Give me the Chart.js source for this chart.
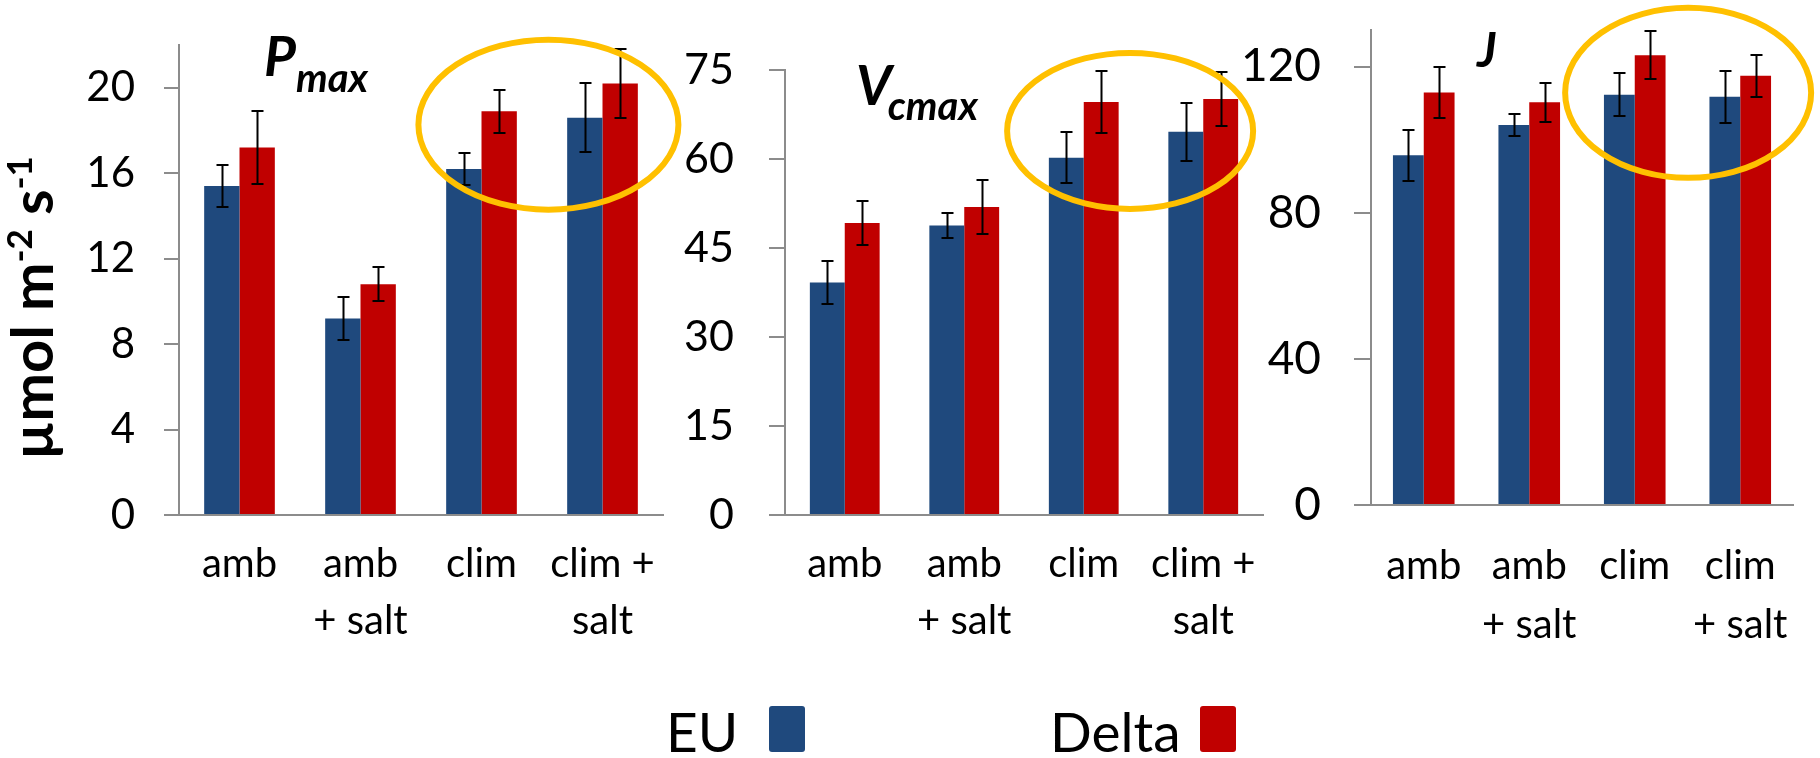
<!DOCTYPE html>
<html>
<head>
<meta charset="utf-8">
<title>Pmax, Vcmax and J by treatment</title>
<script src="https://cdn.jsdelivr.net/npm/chart.js@4.4.1/dist/chart.umd.min.js"></script>
<style>
  html, body { margin: 0; padding: 0; background: #ffffff; }
  body { width: 1820px; height: 758px; position: relative; overflow: hidden; font-family: Lato, "Noto Sans", sans-serif; }
  canvas { position: absolute; top: 0; }
  .legend-item { position: absolute; white-space: nowrap; font-family: Lato, sans-serif; font-size: 55px; line-height: 55px; color: #000; }
  .legend-swatch { display: inline-block; vertical-align: baseline; width: 36px; height: 46px; border-radius: 3px; }
</style>
</head>
<body>
<canvas id="chartPmax" width="700" height="700" style="left:0px"></canvas>
<canvas id="chartVcmax" width="700" height="700" style="left:600px"></canvas>
<canvas id="chartJ" width="600" height="700" style="left:1220px"></canvas>
<div id="legend"></div>
<script>
// ---- data ----
const seriesNames = ['EU', 'Delta'];
const seriesColors = ['#1F497D', '#C00000'];

const treatmentLabels = [['amb'], ['amb', '+ salt'], ['clim'], ['clim +', 'salt']];
const treatmentLabelsJ = [['amb'], ['amb', '+ salt'], ['clim'], ['clim', '+ salt']];

const pmaxEU = [15.4, 9.2, 16.2, 18.6];
const pmaxEUErr = [1.0, 1.0, 0.75, 1.6];
const pmaxDelta = [17.2, 10.8, 18.9, 20.2];
const pmaxDeltaErr = [1.7, 0.8, 1.0, 1.6];
const pmaxTicks = [0, 4, 8, 12, 16, 20];

const vcmaxEU = [39.2, 48.8, 60.2, 64.6];
const vcmaxEUErr = [3.6, 2.1, 4.3, 4.9];
const vcmaxDelta = [49.2, 51.9, 69.6, 70.1];
const vcmaxDeltaErr = [3.75, 4.6, 5.3, 4.6];
const vcmaxTicks = [0, 15, 30, 45, 60, 75];

const jEU = [95.7, 104.0, 112.3, 111.7];
const jEUErr = [7.0, 3.1, 5.8, 7.1];
const jDelta = [112.9, 110.2, 123.1, 117.5];
const jDeltaErr = [6.9, 5.4, 6.6, 5.75];
const jTicks = [0, 40, 80, 120];

// ---- styling ----
const AXIS_GREY = '#8c8c8c';
const FONT = 'Lato';

// Error bars: vertical whiskers with caps, centred on each bar
const errorBarsPlugin = {
  id: 'errorBars',
  afterDatasetsDraw(chart) {
    const ctx = chart.ctx;
    const y = chart.scales.y;
    ctx.save();
    ctx.strokeStyle = '#000';
    ctx.lineWidth = 2;
    chart.data.datasets.forEach((ds, di) => {
      const meta = chart.getDatasetMeta(di);
      meta.data.forEach((bar, i) => {
        const v = ds.data[i], e = ds.errors[i];
        const top = Math.round(y.getPixelForValue(v + e));
        const bot = Math.round(y.getPixelForValue(v - e));
        const x = Math.round(bar.x) + 0.5;
        const cap = 6;
        ctx.beginPath();
        ctx.moveTo(x, top); ctx.lineTo(x, bot);
        ctx.moveTo(x - cap, top); ctx.lineTo(x + cap, top);
        ctx.moveTo(x - cap, bot); ctx.lineTo(x + cap, bot);
        ctx.stroke();
      });
    });
    ctx.restore();
  }
};

// Yellow ring around the "clim" treatments
const highlightPlugin = {
  id: 'highlight',
  afterDraw(chart, args, opts) {
    if (!opts || opts.index === undefined) return;
    const ctx = chart.ctx;
    const cx = chart.scales.x.getPixelForValue(opts.index);
    const cy = chart.scales.y.getPixelForValue(opts.value);
    ctx.save();
    ctx.strokeStyle = '#FFC000';
    ctx.lineWidth = 6;
    ctx.beginPath();
    ctx.ellipse(cx, cy, opts.rx, opts.ry, 0, 0, Math.PI * 2);
    ctx.stroke();
    ctx.restore();
  }
};

// Panel heading with a subscript, e.g. P_max
const panelTitlePlugin = {
  id: 'panelTitle',
  afterDraw(chart, args, opts) {
    if (!opts || !opts.main) return;
    const ctx = chart.ctx;
    ctx.save();
    ctx.fillStyle = '#000';
    ctx.textBaseline = 'alphabetic';
    ctx.textAlign = 'left';
    ctx.font = `italic bold ${opts.mainSize}px ${FONT}`;
    ctx.fillText(opts.main, opts.x, opts.y);
    const w = ctx.measureText(opts.main).width;
    if (opts.sub) {
      ctx.font = `italic bold ${opts.subSize}px ${FONT}`;
      ctx.fillText(opts.sub, opts.x + w + (opts.subShift || 0), opts.y + opts.subDrop);
    }
    ctx.restore();
  }
};

// Rotated unit label with superscripts
const unitTitlePlugin = {
  id: 'unitTitle',
  afterDraw(chart, args, opts) {
    if (!opts || !opts.parts) return;
    const ctx = chart.ctx;
    ctx.save();
    ctx.translate(opts.x, opts.y);
    ctx.rotate(-Math.PI / 2);
    ctx.fillStyle = '#000';
    ctx.textBaseline = 'alphabetic';
    ctx.textAlign = 'left';
    let total = 0;
    opts.parts.forEach(p => {
      ctx.font = `bold ${p.sup ? opts.supSize : opts.size}px ${FONT}`;
      p.w = ctx.measureText(p.text).width;
      total += p.w;
    });
    let pos = -total / 2;
    opts.parts.forEach(p => {
      ctx.font = `bold ${p.sup ? opts.supSize : opts.size}px ${FONT}`;
      ctx.fillText(p.text, pos, p.sup ? -opts.rise : 0);
      pos += p.w;
    });
    ctx.restore();
  }
};

function makePanel(canvasId, cfg) {
  return new Chart(document.getElementById(canvasId), {
    type: 'bar',
    data: {
      labels: cfg.labels,
      datasets: [
        { label: seriesNames[0], data: cfg.eu, errors: cfg.euErr, backgroundColor: seriesColors[0] },
        { label: seriesNames[1], data: cfg.delta, errors: cfg.deltaErr, backgroundColor: seriesColors[1] }
      ]
    },
    plugins: [errorBarsPlugin, highlightPlugin, panelTitlePlugin, unitTitlePlugin],
    options: {
      responsive: false,
      maintainAspectRatio: false,
      animation: false,
      devicePixelRatio: 1,
      events: [],
      layout: {
        autoPadding: false,
        padding: { left: 0, right: cfg.padRight, top: cfg.plotTop, bottom: 0 }
      },
      datasets: { bar: { categoryPercentage: 0.584, barPercentage: 1.0, borderWidth: 0 } },
      plugins: {
        legend: { display: false },
        tooltip: { enabled: false },
        title: { display: false },
        highlight: cfg.ring,
        panelTitle: cfg.title,
        unitTitle: cfg.unit || {}
      },
      scales: {
        x: {
          grid: { display: false, drawTicks: false },
          border: { display: true, color: AXIS_GREY, width: 2 },
          ticks: {
            color: '#000',
            font: { family: FONT, size: 40, lineHeight: cfg.xLine },
            padding: cfg.xPad,
            maxRotation: 0, minRotation: 0, autoSkip: false
          },
          afterFit: s => {
            s.height = cfg.xHeight;
            s.paddingLeft = 0; s.paddingRight = 0;
          }
        },
        y: {
          min: 0,
          max: cfg.max,
          afterBuildTicks: s => { s.ticks = cfg.ticks.map(v => ({ value: v })); },
          grid: {
            display: true, drawOnChartArea: false, drawTicks: true,
            tickLength: cfg.tickLen, color: AXIS_GREY, lineWidth: 2
          },
          border: { display: true, color: AXIS_GREY, width: 2 },
          ticks: {
            color: '#000',
            font: { family: FONT, size: cfg.yFont },
            padding: cfg.yPad
          },
          afterFit: s => {
            s.width = cfg.yWidth;
            s.paddingTop = 0; s.paddingBottom = 0;
          }
        }
      }
    }
  });
}

makePanel('chartPmax', {
  labels: treatmentLabels,
  eu: pmaxEU, euErr: pmaxEUErr, delta: pmaxDelta, deltaErr: pmaxDeltaErr,
  max: 22, ticks: pmaxTicks,
  plotTop: 45, padRight: 37, yWidth: 179, xHeight: 700 - 515,
  tickLen: 15, yFont: 42, yPad: 29, xPad: 20, xLine: 1.435,
  ring: { index: 2.553, value: 18.27, rx: 130, ry: 85 },
  title: { main: 'P', sub: 'max', x: 264, y: 76, mainSize: 55, subSize: 40, subDrop: 16, subShift: 0 },
  unit: {
    x: 53, y: 308, size: 58, supSize: 35, rise: 21,
    parts: [{ text: 'µmol m' }, { text: '-2', sup: true }, { text: ' s' }, { text: '-1', sup: true }]
  }
});

makePanel('chartVcmax', {
  labels: treatmentLabels,
  eu: vcmaxEU, euErr: vcmaxEUErr, delta: vcmaxDelta, deltaErr: vcmaxDeltaErr,
  max: 75, ticks: vcmaxTicks,
  plotTop: 70, padRight: 37, yWidth: 185, xHeight: 700 - 515,
  tickLen: 16, yFont: 43, yPad: 35, xPad: 20, xLine: 1.435,
  ring: { index: 2.388, value: 64.74, rx: 123, ry: 78 },
  title: { main: 'V', sub: 'cmax', x: 256, y: 105, mainSize: 55, subSize: 40, subDrop: 15, subShift: -4 }
});

makePanel('chartJ', {
  labels: treatmentLabelsJ,
  eu: jEU, euErr: jEUErr, delta: jDelta, deltaErr: jDeltaErr,
  max: 130, ticks: jTicks,
  plotTop: 30, padRight: 27, yWidth: 151, xHeight: 700 - 505,
  tickLen: 17, yFont: 46, yPad: 33, xPad: 31, xLine: 1.48,
  ring: { index: 2.506, value: 112.8, rx: 123, ry: 85 },
  title: { main: 'J', x: 257, y: 67, mainSize: 48 }
});

// Legend: label text followed by its colour swatch
const legendSlots = [{ left: 666, gap: 31 }, { left: 1050, gap: 19 }];
const legendEl = document.getElementById('legend');
seriesNames.forEach((name, i) => {
  const item = document.createElement('div');
  item.className = 'legend-item';
  item.style.left = legendSlots[i].left + 'px';
  item.style.top = '704px';
  const txt = document.createElement('span');
  txt.textContent = name;
  const sw = document.createElement('span');
  sw.className = 'legend-swatch';
  sw.style.background = seriesColors[i];
  sw.style.marginLeft = legendSlots[i].gap + 'px';
  item.appendChild(txt);
  item.appendChild(sw);
  legendEl.appendChild(item);
});
</script>
</body>
</html>
